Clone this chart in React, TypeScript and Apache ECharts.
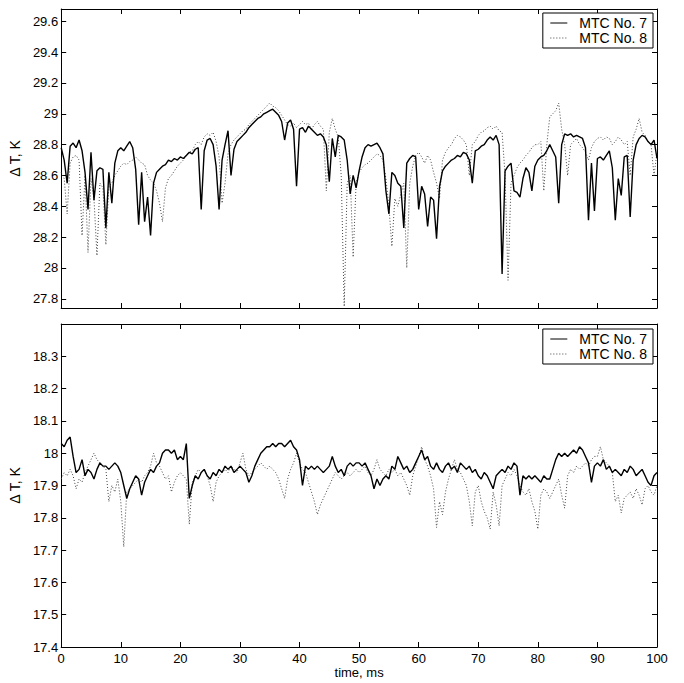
import React, { useEffect, useRef } from "react";
import * as echarts from "echarts";

const TIME_STEP = 0.5; // ms between samples, 0..100 ms

const TOP_MTC7 = [
  28.78, 28.70, 28.55, 28.79, 28.81, 28.78, 28.83, 28.76, 28.62, 28.38,
  28.75, 28.44, 28.63, 28.65, 28.64, 28.26, 28.62, 28.42, 28.68, 28.76,
  28.78, 28.76, 28.79, 28.82, 28.78, 28.64, 28.28, 28.62, 28.30, 28.46,
  28.21, 28.55, 28.62, 28.64, 28.66, 28.67, 28.70, 28.69, 28.71, 28.70,
  28.72, 28.71, 28.73, 28.75, 28.74, 28.77, 28.78, 28.38, 28.76, 28.83,
  28.84, 28.80, 28.66, 28.38, 28.70, 28.80, 28.89, 28.60, 28.77, 28.82,
  28.84, 28.86, 28.88, 28.91, 28.93, 28.95, 28.97, 28.98, 29.00, 29.01,
  29.02, 29.03, 29.01, 28.99, 28.95, 28.83, 28.94, 28.96, 28.90, 28.53,
  28.90, 28.91, 28.88, 28.92, 28.90, 28.88, 28.86, 28.87, 28.85, 28.80,
  28.56, 28.84, 28.72, 28.86, 28.85, 28.83, 28.70, 28.48, 28.60, 28.52,
  28.63, 28.72, 28.78, 28.80, 28.79, 28.80, 28.81, 28.78, 28.74, 28.50,
  28.35, 28.62, 28.60, 28.55, 28.53, 28.26, 28.68, 28.71, 28.73, 28.72,
  28.38, 28.53, 28.48, 28.27, 28.46, 28.44, 28.19, 28.53, 28.63, 28.66,
  28.68, 28.70, 28.71, 28.73, 28.72, 28.75, 28.74, 28.70, 28.55, 28.76,
  28.77, 28.79, 28.80, 28.83, 28.85, 28.83, 28.86, 28.80, 27.96, 28.63,
  28.66, 28.68, 28.50, 28.49, 28.46, 28.58, 28.65, 28.62, 28.50, 28.66,
  28.70, 28.72, 28.73, 28.76, 28.80, 28.76, 28.72, 28.42, 28.80, 28.87,
  28.86, 28.87, 28.85, 28.86, 28.85, 28.84, 28.78, 28.31, 28.68, 28.37,
  28.71, 28.72, 28.70, 28.73, 28.76, 28.65, 28.31, 28.58, 28.47, 28.72,
  28.73, 28.33, 28.70, 28.80, 28.84, 28.86, 28.85, 28.82, 28.80, 28.83, 28.71,
];

const TOP_MTC8 = [
  28.62, 28.58, 28.35, 28.68, 28.72, 28.73, 28.70, 28.21, 28.60, 28.10,
  28.58, 28.45, 28.08, 28.55, 28.52, 28.15, 28.53, 28.55, 28.60, 28.63,
  28.66, 28.68, 28.67, 28.69, 28.70, 28.72, 28.70, 28.68, 28.67, 28.60,
  28.57, 28.55, 28.50, 28.42, 28.30, 28.52, 28.58, 28.60, 28.63, 28.66,
  28.68, 28.70, 28.73, 28.75, 28.76, 28.80, 28.82, 28.80, 28.85, 28.87,
  28.86, 28.88, 28.82, 28.72, 28.42, 28.55, 28.74, 28.80, 28.83, 28.85,
  28.87, 28.89, 28.90, 28.93, 28.95, 28.97, 28.99, 29.01, 29.03, 29.05,
  29.07, 29.05, 29.04, 29.02, 28.99, 28.96, 28.93, 28.92, 28.94, 28.91,
  28.93, 28.95, 28.93, 28.94, 28.90, 28.93, 28.95, 28.92, 28.90, 28.50,
  28.88, 28.97, 28.90, 28.85, 28.60, 27.75, 28.55, 28.60, 28.07, 28.55,
  28.62, 28.65, 28.67, 28.68, 28.70, 28.72, 28.74, 28.73, 28.70, 28.58,
  28.40, 28.14, 28.45, 28.40, 28.48, 28.55, 28.00, 28.55, 28.66, 28.73,
  28.75, 28.72, 28.68, 28.73, 28.70, 28.62, 28.55, 28.45, 28.70, 28.75,
  28.78, 28.80, 28.84, 28.86, 28.85, 28.83, 28.80, 28.60, 28.80, 28.82,
  28.86, 28.88, 28.89, 28.91, 28.92, 28.90, 28.92, 28.89, 28.88, 28.60,
  27.92, 28.55, 28.60, 28.65, 28.68, 28.70, 28.73, 28.75, 28.78, 28.80,
  28.80, 28.82, 28.50, 28.80, 28.98, 29.00, 29.02, 29.07, 28.90, 28.80,
  28.60, 28.80, 28.82, 28.84, 28.80, 28.78, 28.75, 28.70, 28.78, 28.82,
  28.84, 28.85, 28.83, 28.85, 28.84, 28.80, 28.82, 28.85, 28.83, 28.80,
  28.82, 28.60, 28.85, 28.90, 28.97, 28.88, 28.86, 28.82, 28.80, 28.60, 28.75,
];

const BOTTOM_MTC7 = [
  18.03, 18.02, 18.04, 18.05, 17.99, 17.94, 17.95, 17.98, 17.93, 17.95,
  17.94, 17.92, 17.95, 17.97, 17.96, 17.96, 17.95, 17.96, 17.97, 17.96,
  17.94, 17.90, 17.86, 17.89, 17.91, 17.93, 17.92, 17.87, 17.91, 17.93,
  17.95, 17.94, 17.96, 17.97, 18.00, 18.01, 18.01, 18.00, 18.01, 17.98,
  17.99, 17.98, 18.03, 17.86, 17.90, 17.93, 17.92, 17.94, 17.95, 17.93,
  17.92, 17.94, 17.93, 17.95, 17.94, 17.96, 17.95, 17.96, 17.94, 17.95,
  17.96, 17.95, 17.94, 17.91, 17.93, 17.96, 17.98, 18.00, 18.01, 18.02,
  18.02, 18.03, 18.02, 18.03, 18.03, 18.02, 18.03, 18.04, 18.02, 18.01,
  17.98, 17.90, 17.96, 17.95, 17.96, 17.95, 17.96, 17.95, 17.94, 17.95,
  17.96, 17.99, 17.96, 17.94, 17.95, 17.93, 17.96, 17.97, 17.96, 17.97,
  17.97, 17.96, 17.97, 17.95, 17.93, 17.89, 17.92, 17.90, 17.92, 17.93,
  17.92, 17.96, 17.95, 17.99, 17.97, 17.95, 17.96, 17.94, 17.95, 17.97,
  17.99, 18.01, 17.98, 17.99, 17.96, 17.95, 17.97, 17.95, 17.94, 17.96,
  17.97, 17.95, 17.96, 17.94, 17.97, 17.96, 17.95, 17.96, 17.94, 17.95,
  17.93, 17.92, 17.94, 17.93, 17.91, 17.89, 17.93, 17.94, 17.95, 17.94,
  17.96, 17.95, 17.97, 17.96, 17.87, 17.93, 17.92, 17.93, 17.92, 17.93,
  17.92, 17.91, 17.93, 17.92, 17.92, 17.95, 17.98, 18.00, 17.99, 18.00,
  17.99, 18.00, 18.01, 18.00, 18.02, 18.01, 17.99, 17.97, 17.91, 17.96,
  17.97, 17.96, 17.98, 17.95, 17.96, 17.94, 17.95, 17.94, 17.93, 17.95,
  17.94, 17.96, 17.95, 17.93, 17.94, 17.95, 17.93, 17.91, 17.90, 17.93, 17.94,
];

const BOTTOM_MTC8 = [
  17.92, 17.94, 17.93, 17.95, 17.93, 17.89, 17.92, 17.91, 17.94, 17.96,
  17.98, 18.00, 17.98, 17.97, 17.96, 17.95, 17.85, 17.90, 17.88, 17.92,
  17.85, 17.71, 17.88, 17.89, 17.90, 17.91, 17.92, 17.91, 17.93, 17.94,
  17.96, 18.00, 17.97, 17.96, 17.94, 17.92, 17.93, 17.88, 17.91, 17.93,
  17.94, 17.93, 17.92, 17.78, 17.91, 17.93, 17.95, 17.94, 17.95, 17.93,
  17.90, 17.85, 17.91, 17.93, 17.94, 17.95, 17.94, 17.96, 17.95, 17.94,
  17.97, 18.00, 17.95, 17.93, 17.94, 17.95, 17.96, 17.97, 17.96, 17.95,
  17.96, 17.95, 17.94, 17.92, 17.89, 17.86, 17.92, 17.95, 17.97, 18.00,
  17.97, 17.95, 17.94, 17.91, 17.88, 17.85, 17.81, 17.84, 17.86, 17.88,
  17.90, 17.92, 17.94, 17.93, 17.92, 17.93, 17.94, 17.93, 17.94, 17.95,
  17.94, 17.95, 17.96, 17.94, 17.93, 17.95, 17.98, 17.95, 17.94, 17.93,
  17.95, 17.94, 17.95, 17.93, 17.94, 17.92, 17.90, 17.87, 17.93, 17.96,
  17.99, 18.02, 17.98, 17.96, 17.93, 17.89, 17.77, 17.85, 17.81, 17.88,
  17.92, 17.95, 17.98, 17.95, 17.94, 17.92, 17.90, 17.85, 17.775, 17.88,
  17.90, 17.85, 17.82, 17.80, 17.765, 17.88, 17.84, 17.775, 17.90, 17.92,
  17.94, 17.93, 17.95, 17.93, 17.90, 17.88, 17.87, 17.89, 17.85, 17.82,
  17.765, 17.87, 17.89, 17.88, 17.86, 17.88, 17.90, 17.92, 17.87, 17.83,
  17.93, 17.95, 17.94, 17.96, 17.95, 17.96, 17.97, 17.96, 17.98, 17.99,
  17.99, 18.02, 17.98, 17.97, 17.96, 17.94, 17.85, 17.87, 17.815, 17.86,
  17.87, 17.88, 17.86, 17.89, 17.87, 17.84, 17.89, 17.90, 17.88, 17.87, 17.90,
];

const X_TICKS = [0, 10, 20, 30, 40, 50, 60, 70, 80, 90, 100];
const TOP_Y_TICKS = [27.8, 28, 28.2, 28.4, 28.6, 28.8, 29, 29.2, 29.4, 29.6];
const BOTTOM_Y_TICKS = [17.4, 17.5, 17.6, 17.7, 17.8, 17.9, 18, 18.1, 18.2, 18.3];
const SERIES_NAMES = ["MTC No. 7", "MTC No. 8"];
const Y_NAME = "\u0394 T, K";
const X_NAME = "time, ms";

const FONT = "'Liberation Sans', Arial, Helvetica, sans-serif";

function pairs(values: number[]) {
  return values.map((v, i) => [i * TIME_STEP, v]);
}

const fmt = (v: number) => String(Number(v.toFixed(1)));

function xAxes(gridIndex: number, withLabels: boolean) {
  const common = {
    gridIndex,
    type: "value",
    min: X_TICKS[0],
    max: X_TICKS[X_TICKS.length - 1],
    interval: X_TICKS[1] - X_TICKS[0],
    splitLine: { show: false },
    axisLine: { show: true, onZero: false, lineStyle: { color: "#000", width: 1 } },
    axisTick: { show: true, inside: true, length: 5, lineStyle: { color: "#000" } },
  };
  return [
    {
      ...common,
      position: "bottom",
      axisLabel: { show: withLabels, color: "#000", fontSize: 13, fontFamily: FONT, margin: 5 },
      name: withLabels ? X_NAME : "",
      nameLocation: "middle",
      nameGap: 17,
      nameTextStyle: { color: "#000", fontSize: 13, fontFamily: FONT },
    },
    { ...common, position: "top", axisLabel: { show: false } },
  ];
}

function yAxes(gridIndex: number, min: number, max: number, ticks: number[]) {
  const common = {
    gridIndex,
    type: "value",
    min,
    max,
    splitLine: { show: false },
    axisLine: { show: true, onZero: false, lineStyle: { color: "#000", width: 1 } },
    axisTick: { show: true, inside: true, length: 5, customValues: ticks, lineStyle: { color: "#000" } },
  };
  return [
    {
      ...common,
      position: "left",
      axisLabel: {
        show: true,
        customValues: ticks,
        formatter: (v: number) => fmt(v),
        color: "#000",
        fontSize: 13,
        fontFamily: FONT,
        margin: 3,
      },
      name: Y_NAME,
      nameLocation: "middle",
      nameGap: 33,
      nameTextStyle: { color: "#000", fontSize: 14, fontFamily: FONT },
    },
    { ...common, position: "right", axisLabel: { show: false } },
  ];
}

function legend(top: number) {
  return {
    data: SERIES_NAMES,
    orient: "vertical",
    right: 31,
    top,
    backgroundColor: "#fff",
    borderColor: "#000",
    borderWidth: 1,
    borderRadius: 0,
    padding: [3, 6, 3, 7],
    itemWidth: 17,
    itemHeight: 14,
    itemGap: 1,
    itemStyle: { opacity: 0 },
    lineStyle: { width: 1 },
    textStyle: { color: "#000", fontSize: 14, fontFamily: FONT, padding: [0, 0, 0, 7] },
    selectedMode: false,
  };
}

function line(name: string, values: number[], xi: number, yi: number, dotted: boolean) {
  return {
    name,
    type: "line",
    xAxisIndex: xi,
    yAxisIndex: yi,
    data: pairs(values),
    symbol: "none",
    showSymbol: false,
    smooth: false,
    z: dotted ? 2 : 3,
    lineStyle: dotted
      ? { color: "#444", width: 1, type: [1, 2] }
      : { color: "#000", width: 1.4, type: "solid" },
    itemStyle: { color: dotted ? "#444" : "#000" },
  };
}

export default function App() {
  const ref = useRef<HTMLDivElement>(null);
  useEffect(() => {
    if (!ref.current) return;
    const chart = echarts.init(ref.current, undefined, { renderer: "svg" });
    chart.setOption({
      animation: false,
      backgroundColor: "#fff",
      textStyle: { fontFamily: FONT },
      grid: [
        { left: 58, right: 27, top: 9, height: 299, containLabel: false },
        { left: 58, right: 27, top: 324, height: 323, containLabel: false },
      ],
      legend: [legend(13), legend(329)],
      xAxis: [...xAxes(0, false), ...xAxes(1, true)],
      yAxis: [
        ...yAxes(0, 27.74, 29.68, TOP_Y_TICKS),
        ...yAxes(1, 17.4, 18.4, BOTTOM_Y_TICKS),
      ],
      series: [
        line(SERIES_NAMES[1], TOP_MTC8, 0, 0, true),
        line(SERIES_NAMES[0], TOP_MTC7, 0, 0, false),
        line(SERIES_NAMES[1], BOTTOM_MTC8, 2, 2, true),
        line(SERIES_NAMES[0], BOTTOM_MTC7, 2, 2, false),
      ],
    });
    return () => chart.dispose();
  }, []);
  return (
    <div
      ref={ref}
      style={{ position: "fixed", left: 0, top: 0, width: 684, height: 683, background: "#fff" }}
    />
  );
}
